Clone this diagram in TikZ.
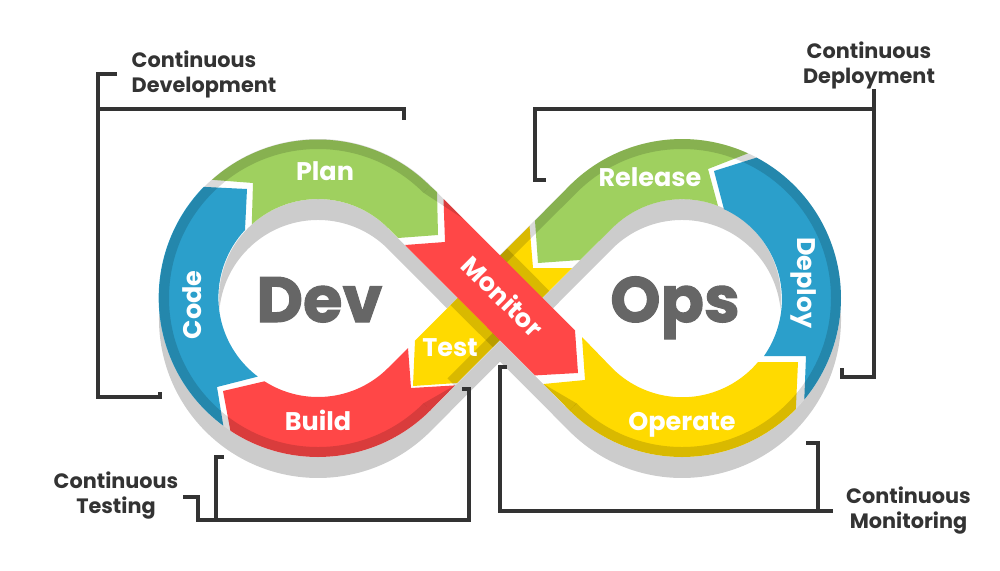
\documentclass[tikz,border=0pt]{standalone}
\usepackage{fontspec}
\setmainfont{Poppins}
\newfontfamily\heavyfont[BoldFeatures={FakeBold=1.6}]{Poppins}
\usetikzlibrary{calc}

\definecolor{planGreen}{HTML}{9FD05F}
\definecolor{codeBlue}{HTML}{2B9FCB}
\definecolor{buildRed}{HTML}{FF4747}
\definecolor{testYellow}{HTML}{FFDA00}
\definecolor{shadowGray}{HTML}{CCCCCC}
\definecolor{bigGray}{HTML}{666666}
\definecolor{lineDark}{HTML}{333333}

\tikzset{
    rim/.style={black, opacity=0.15, line width=10pt},
    taper/.style={fill=black, opacity=0.15},
    bracket/.style={lineDark, line width=3.4pt, line cap=butt, line join=miter},
    phase/.style={text=white, anchor=base, font=\fontsize{25.5}{25.5}\selectfont\bfseries},
    big/.style={text=bigGray, anchor=base, font=\fontsize{64}{64}\selectfont\heavyfont\bfseries},
    stage/.style={text=lineDark, font=\fontsize{20.8}{25}\selectfont\bfseries, align=center}
}
\def\eightpath{(409.2,206.8) -- (590.8,389.2) arc[start angle=135, end angle=-135, radius=129] -- (409.2,389.2) arc[start angle=45, end angle=315, radius=129] -- cycle}

\begin{document}
\begin{tikzpicture}[x=1pt, y=-1pt]
    \useasboundingbox (0,0) rectangle (1000,570);

    % Shadow and white base
    \draw[shadowGray, line width=60pt, yshift=-21pt] \eightpath;
    \draw[white, line width=60pt] \eightpath;

    % Left loop
    \fill[codeBlue] (223.3,425.7) arc[start angle=126.4, end angle=224.2, radius=159] -- (247,189) -- (245,230) arc[start angle=223, end angle=127, radius=99] -- (217,387) -- cycle;
    \fill[planGreen] (212,179.8) arc[start angle=228.3, end angle=315, radius=159] -- (437,192) -- (438,235) -- (398,238) -- (388,228) arc[start angle=315, end angle=228, radius=99] -- (253,183) -- cycle;
    \fill[buildRed] (230.4,430.7) arc[start angle=123.4, end angle=45, radius=159] -- (455,385.4) -- (411,388) -- (408,348) -- (388,368) arc[start angle=45, end angle=122.7, radius=99] -- (223,391) -- cycle;

    % Crossing piece
    \fill[testYellow] (415,340.5) -- (529.5,226) -- (533,268) -- (572,268) -- (457,383) -- (413,386) -- cycle;

    % Right loop
    \fill[planGreen] (535,220.6) -- (569.6,185.6) arc[start angle=225, end angle=294.5, radius=159] -- (708,169) -- (718,205.9) arc[start angle=291.2, end angle=225, radius=99] -- (580,260) -- (538,263) -- cycle;
    \fill[codeBlue] (756.6,157.6) arc[start angle=-62, end angle=39.7, radius=159] -- (806,356) -- (764,356) arc[start angle=35, end angle=-65.5, radius=99] -- (714,171) -- cycle;
    \fill[testYellow] (543.5,384) -- (569.6,410.4) arc[start angle=135, end angle=44.3, radius=159] -- (798,362) -- (758,362) arc[start angle=40.1, end angle=135, radius=99] -- (582,337) -- (585,380) -- cycle;

    % Darker outer edges
    \draw[rim] (426.9,406.9) arc[start angle=45, end angle=315, radius=154];
    \draw[rim] (573.1,406.9) arc[start angle=135, end angle=-135, radius=154] -- (500,262);
    \draw[rim] (451,382) -- (510,323);
    \fill[taper] (430.4,410.4) -- (423.4,403.4) -- (455.5,385) -- cycle;
    \fill[taper] (543.5,384) -- (569.6,410.4) -- (576.6,403.4) -- cycle;

    % Monitor shadow on the crossing piece
    \draw[rim] (503.5,252) -- (545.7,294.3);
    \draw[rim] (454,301.5) -- (496.3,343.7);

    % Monitor on top
    \fill[buildRed] (443.5,199) -- (575,330.5) -- (578,373) -- (535,375.4) -- (405,245) -- (445,242) -- cycle;
    \fill[taper] (430.4,185.6) -- (463,218.6) -- (423.4,192.6) -- cycle;

    % Labels on the band
    \node[phase] (plan) at (325,180) {Plan};
    \node[phase, rotate=90] (code) at (201,305) {Code};
    \node[phase] (build) at (318,430.5) {Build};
    \node[phase] (test) at (450,356) {Test};
    \node[phase, anchor=center, rotate=-45] (monitor) at (503,296) {Monitor};
    \node[phase] (release) at (650,186) {Release};
    \node[phase, rotate=-90] (deploy) at (797,283) {Deploy};
    \node[phase] (operate) at (682,430) {Operate};
    \node[big] (dev) at (319.5,322) {Dev};
    \node[big] (ops) at (675,322) {Ops};

    % Stage labels
    \node[stage, align=left] (ctdev) at (204,74.5) {Continuous\\Development};
    \node[stage] (ctdep) at (869,65) {Continuous\\Deployment};
    \node[stage] (cttest) at (116,496) {Continuous\\Testing};
    \node[stage] (ctmon) at (908.5,511) {Continuous\\Monitoring};

    % Bracket points
    \foreach \name/\px/\py in {devTop/117/74, devCorner/98/74, devBottom/98/397, devEnd/160/397, devTick/160/392,
        devJoin/98/109, devRight/404/109, devDrop/404/120,
        depTop/874/89, depBottom/874/377, depLeft/842/377, depTick/842/368,
        depJoin/874/109, depFar/535/109, depDown/535/180, depEnd/546/180,
        testStart/183/497, testCorner/198/497, testBase/198/520, testRight/469/520, testUp/469/389, testEnd/462/389,
        testJoin/216/520, testRise/216/457, testHook/224/457,
        monUp/500/367, monHook/507/367, monBase/500/511, monFar/833/511,
        monJoin/818/511, monRise/818/443, monEnd/806/443} {
        \coordinate (\name) at (\px,\py);
    }

    % Brackets
    \draw[bracket] (devTop) -- (devCorner) -- (devBottom) -- (devEnd) -- (devTick);
    \draw[bracket] (devJoin) -- (devRight) -- (devDrop);
    \draw[bracket] (depTop) -- (depBottom) -- (depLeft) -- (depTick);
    \draw[bracket] (depJoin) -- (depFar) -- (depDown) -- (depEnd);
    \draw[bracket] (testStart) -- (testCorner) -- (testBase) -- (testRight) -- (testUp) -- (testEnd);
    \draw[bracket] (testJoin) -- (testRise) -- (testHook);
    \draw[bracket] (monHook) -- (monUp) -- (monBase) -- (monFar);
    \draw[bracket] (monJoin) -- (monRise) -- (monEnd);

\end{tikzpicture}
\end{document}
